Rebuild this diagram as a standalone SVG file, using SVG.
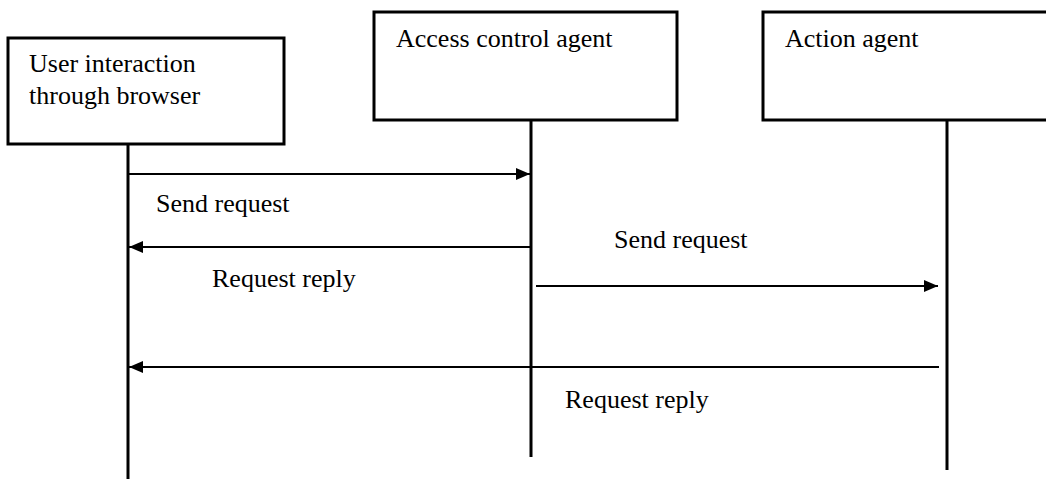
<svg xmlns="http://www.w3.org/2000/svg" width="1046" height="479" viewBox="0 0 1046 479">
  <style>
    .box { fill: #fff; stroke: #000; stroke-width: 3; }
    .life { stroke: #000; stroke-width: 3; }
    .msg { stroke: #000; stroke-width: 1.8; fill: none; }
    text { font-family: "Liberation Serif", "Times New Roman", serif; font-size: 26px; fill: #000; }
  </style>
  <defs>
    <marker id="arrow" viewBox="0 0 14 12" refX="14" refY="6" markerWidth="14" markerHeight="12" markerUnits="userSpaceOnUse" orient="auto">
      <path d="M0,0 L14,6 L0,12 Z" fill="#000"/>
    </marker>
  </defs>

  <g id="node-user">
    <rect class="box" x="8" y="38" width="276" height="106"/>
    <text x="29" y="72">User interaction</text>
    <text x="29" y="104">through browser</text>
    <line class="life" x1="128" y1="144" x2="128" y2="479"/>
  </g>

  <g id="node-access">
    <rect class="box" x="374" y="12" width="303" height="108"/>
    <text x="396" y="47">Access control agent</text>
    <line class="life" x1="531" y1="120" x2="531" y2="457"/>
  </g>

  <g id="node-action">
    <rect class="box" x="763" y="12" width="300" height="108"/>
    <text x="785" y="47">Action agent</text>
    <line class="life" x1="947" y1="120" x2="947" y2="470"/>
  </g>

  <g id="connectors">
    <line class="msg" x1="128" y1="174" x2="530" y2="174" marker-end="url(#arrow)"/>
    <text x="156" y="212">Send request</text>
    <line class="msg" x1="531" y1="247" x2="129" y2="247" marker-end="url(#arrow)"/>
    <text x="212" y="287">Request reply</text>
    <line class="msg" x1="536" y1="286" x2="938" y2="286" marker-end="url(#arrow)"/>
    <text x="614" y="248">Send request</text>
    <line class="msg" x1="939" y1="367" x2="129" y2="367" marker-end="url(#arrow)"/>
    <text x="565" y="408">Request reply</text>
  </g>
</svg>
